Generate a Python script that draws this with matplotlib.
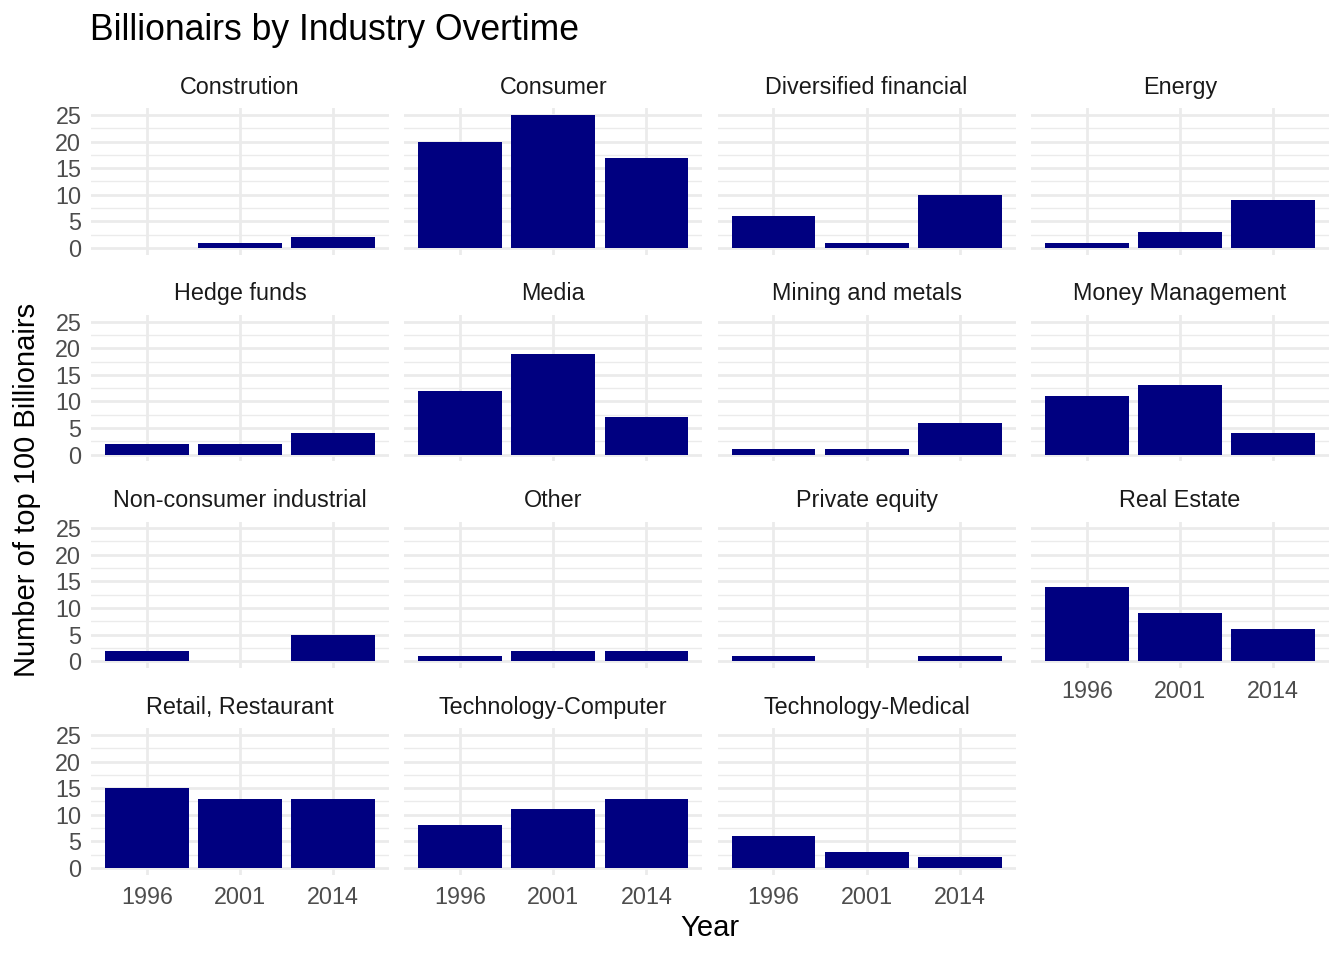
import matplotlib
matplotlib.use("Agg")
import matplotlib.pyplot as plt
import numpy as np

plt.rcParams['font.family'] = ['Liberation Sans', 'DejaVu Sans']

years = ["1996", "2001", "2014"]
industries = ["Constrution", "Consumer", "Diversified financial", "Energy",
              "Hedge funds", "Media", "Mining and metals", "Money Management",
              "Non-consumer industrial", "Other", "Private equity", "Real Estate",
              "Retail, Restaurant", "Technology-Computer", "Technology-Medical"]
# counts per year (1996, 2001, 2014); None = no bar
constrution = [None, 1, 2]
consumer = [20, 25, 17]
diversified_financial = [6, 1, 10]
energy = [1, 3, 9]
hedge_funds = [2, 2, 4]
media = [12, 19, 7]
mining_metals = [1, 1, 6]
money_management = [11, 13, 4]
non_consumer_industrial = [2, None, 5]
other = [1, 2, 2]
private_equity = [1, None, 1]
real_estate = [14, 9, 6]
retail_restaurant = [15, 13, 13]
tech_computer = [8, 11, 13]
tech_medical = [6, 3, 2]

values = [constrution, consumer, diversified_financial, energy, hedge_funds,
          media, mining_metals, money_management, non_consumer_industrial, other,
          private_equity, real_estate, retail_restaurant, tech_computer, tech_medical]

W, H = 1344, 960
fig = plt.figure(figsize=(W / 100, H / 100), dpi=100)
fig.patch.set_facecolor("white")

col_left = [91, 404.3, 717.6, 1031]
row_top = [108.3, 315.0, 521.5, 728.3]
pw, ph = 298, 146.3
ncol = 4
grid_col = "#EBEBEB"

for i, (name, vals) in enumerate(zip(industries, values)):
    r, c = divmod(i, ncol)
    left = col_left[c] / W
    bottom = 1 - (row_top[r] + ph) / H
    ax = fig.add_axes([left, bottom, pw / W, ph / H])
    xs = [j for j, v in enumerate(vals) if v is not None]
    hs = [v for v in vals if v is not None]
    ax.bar(xs, hs, width=0.9, color="#000080", zorder=3)
    ax.set_xlim(-0.6, 2.6)
    ax.set_ylim(-1.25, 26.25)
    ax.set_xticks(range(len(years)))
    ax.set_yticks([0, 5, 10, 15, 20, 25])
    ax.set_yticks([2.5, 7.5, 12.5, 17.5, 22.5], minor=True)
    ax.grid(True, which="major", color=grid_col, linewidth=2.0, zorder=0)
    ax.grid(True, which="minor", axis="y", color=grid_col, linewidth=1.0, zorder=0)
    ax.set_axisbelow(True)
    for s in ax.spines.values():
        s.set_visible(False)
    ax.tick_params(which="both", length=0, labelsize=16.8, colors="#4D4D4D")
    ax.tick_params(axis="x", pad=8.5)
    ax.tick_params(axis="y", pad=7)
    last_in_col = (i + ncol >= len(industries))
    if last_in_col:
        ax.set_xticklabels(years)
    else:
        ax.set_xticklabels([])
    if c == 0:
        ax.set_yticklabels(["0", "5", "10", "15", "20", "25"])
    else:
        ax.set_yticklabels([])
    ax.set_title(name, fontsize=16.8, color="#1A1A1A", pad=10.5)

fig.text(90 / W, 1 - 31 / H, "Billionairs by Industry Overtime", fontsize=25.6,
         va="center", ha="left", color="black")
fig.text(710 / W, 1 - 928 / H, "Year", fontsize=21, va="center", ha="center")
fig.text(27 / W, 1 - 490 / H, "Number of top 100 Billionairs", fontsize=21,
         va="center", ha="center", rotation=90)

fig.savefig("out.png", dpi=100, facecolor="white")
